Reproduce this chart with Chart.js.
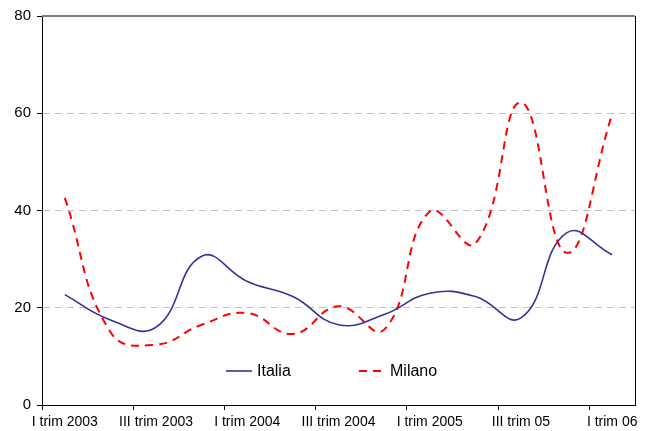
<!DOCTYPE html>
<html>
<head>
<meta charset="utf-8">
<script src="https://cdn.jsdelivr.net/npm/chart.js@4/dist/chart.umd.min.js"></script>
<style>
  html, body { margin: 0; padding: 0; background: #fff; }
  #wrap { width: 650px; height: 431px; }
</style>
</head>
<body>
<div id="wrap"><canvas id="chart" width="650" height="431"></canvas></div>
<script>
// ===== Data =====
const categories = [
  'I trim 2003', 'II trim 2003', 'III trim 2003', 'IV trim 2003',
  'I trim 2004', 'II trim 2004', 'III trim 2004', 'IV trim 2004',
  'I trim 2005', 'II trim 2005', 'III trim 05', 'IV trim 05', 'I trim 06'
];
const italia = [22.7, 17.5, 16.0, 30.6, 25.4, 22.3, 16.5, 18.6, 23.0, 22.3, 17.9, 35.4, 30.9];
const milano = [42.6, 15.0, 12.4, 16.5, 18.9, 14.6, 20.3, 15.5, 39.8, 33.2, 62.2, 31.3, 59.8];
const yTicks = [0, 20, 40, 60, 80];

const FONT = 'Liberation Sans, Arial, sans-serif';

// legend drawn inside the plot, like the original
const legendInside = {
  id: 'legendInside',
  afterDatasetsDraw(chart) {
    const ctx = chart.ctx;
    const items = [
      { ds: chart.data.datasets[0], x: 226 },
      { ds: chart.data.datasets[1], x: 359 }
    ];
    const y = 371;
    ctx.save();
    items.forEach(it => {
      ctx.beginPath();
      ctx.strokeStyle = it.ds.borderColor;
      ctx.lineWidth = it.ds.borderWidth;
      ctx.setLineDash(it.ds.borderDash || []);
      ctx.moveTo(it.x, y);
      ctx.lineTo(it.x + 26, y);
      ctx.stroke();
      ctx.setLineDash([]);
      ctx.fillStyle = '#000';
      ctx.font = '16px ' + FONT;
      ctx.textBaseline = 'middle';
      ctx.fillText(it.ds.label, it.x + 31, y + 1);
    });
    ctx.restore();
  }
};

// top (gray) and right (black) frame of the plot area
const frame = {
  id: 'frame',
  beforeDatasetsDraw(chart) {
    const a = chart.chartArea;
    const ctx = chart.ctx;
    ctx.save();
    ctx.strokeStyle = '#808080';
    ctx.lineWidth = 2;
    ctx.beginPath();
    ctx.moveTo(a.left, a.top);
    ctx.lineTo(a.right, a.top);
    ctx.stroke();
    ctx.strokeStyle = '#000';
    ctx.lineWidth = 1;
    ctx.beginPath();
    ctx.moveTo(a.right + 0.5, a.top);
    ctx.lineTo(a.right + 0.5, a.bottom);
    ctx.stroke();
    ctx.restore();
  }
};

new Chart(document.getElementById('chart'), {
  type: 'line',
  data: {
    labels: categories,
    datasets: [
      {
        label: 'Italia',
        data: italia,
        borderColor: '#333399',
        borderWidth: 1.6,
        pointRadius: 0,
        tension: 0.45,
        fill: false
      },
      {
        label: 'Milano',
        data: milano,
        borderColor: '#ff0000',
        borderWidth: 2,
        borderDash: [8, 6],
        pointRadius: 0,
        tension: 0.45,
        fill: false
      }
    ]
  },
  options: {
    responsive: false,
    animation: false,
    layout: { padding: { top: 16, right: 15, left: 0, bottom: 0 } },
    plugins: {
      legend: { display: false },
      tooltip: { enabled: false }
    },
    scales: {
      x: {
        type: 'category',
        offset: true,
        afterFit: s => { s.height = 26; },
        grid: {
          offset: true,
          drawOnChartArea: false,
          tickLength: 5,
          color: c => (c.index % 2 === 0 ? '#000' : 'rgba(0,0,0,0)'),
          tickColor: c => (c.index % 2 === 0 ? '#000' : 'rgba(0,0,0,0)')
        },
        border: { color: '#000', width: 1 },
        ticks: {
          autoSkip: false,
          maxRotation: 0,
          padding: 4,
          color: '#000',
          font: { family: FONT, size: 14 },
          callback: function(v, i) {
            return i % 2 === 0 ? this.getLabelForValue(v) : '';
          }
        }
      },
      y: {
        min: 0,
        max: 80,
        afterFit: s => { s.width = 42; },
        afterBuildTicks: s => { s.ticks = yTicks.map(v => ({ value: v })); },
        grid: {
          color: c => (c.tick && c.tick.value > 0 && c.tick.value < 80 ? '#c0c0c0' : 'rgba(0,0,0,0)'),
          tickLength: 5,
          tickColor: '#000',
          tickBorderDash: []
        },
        border: { color: '#000', width: 1, dash: [7, 5] },
        ticks: {
          padding: 6,
          color: '#000',
          font: { family: FONT, size: 15 }
        }
      }
    }
  },
  plugins: [frame, legendInside]
});
</script>
</body>
</html>
